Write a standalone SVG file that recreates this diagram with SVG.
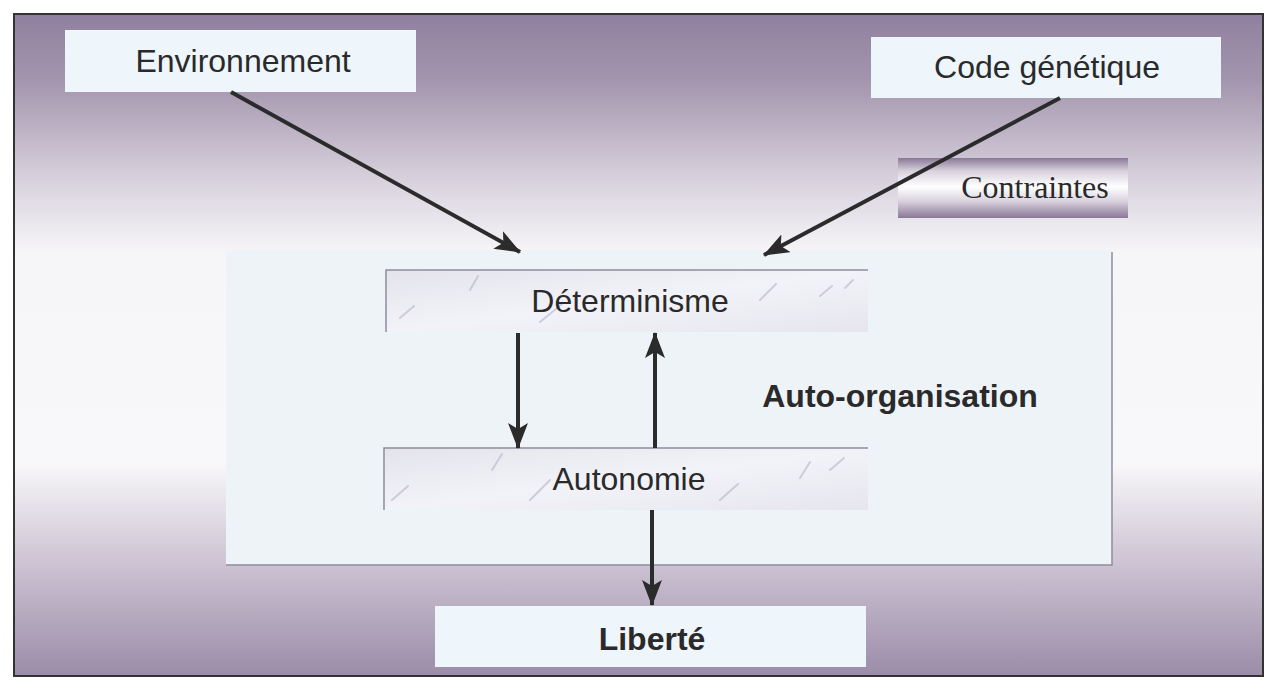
<svg xmlns="http://www.w3.org/2000/svg" width="1273" height="691" viewBox="0 0 1273 691">
  <defs>
    <linearGradient id="bg" x1="0" y1="0" x2="0" y2="1">
      <stop offset="0" stop-color="#9080a0"/>
      <stop offset="0.10" stop-color="#a395ad"/>
      <stop offset="0.25" stop-color="#d8d1dd"/>
      <stop offset="0.36" stop-color="#f6f5f8"/>
      <stop offset="0.68" stop-color="#f8f7f9"/>
      <stop offset="0.83" stop-color="#cdc3d3"/>
      <stop offset="1" stop-color="#9b8ca8"/>
    </linearGradient>
    <linearGradient id="tube" x1="0" y1="0" x2="0" y2="1">
      <stop offset="0" stop-color="#8a7896"/>
      <stop offset="0.22" stop-color="#d9d2de"/>
      <stop offset="0.48" stop-color="#ffffff"/>
      <stop offset="0.72" stop-color="#d9d2de"/>
      <stop offset="1" stop-color="#8a7896"/>
    </linearGradient>
    <linearGradient id="marble" x1="0" y1="0" x2="1" y2="1">
      <stop offset="0" stop-color="#e4e3ec"/>
      <stop offset="0.5" stop-color="#f2f3f8"/>
      <stop offset="1" stop-color="#e6e5ee"/>
    </linearGradient>
    <marker id="head" viewBox="0 0 26 20" refX="25" refY="10" markerWidth="26" markerHeight="20" markerUnits="userSpaceOnUse" orient="auto">
      <path d="M0,0 L26,10 L0,20 L6,10 Z" fill="#2b2b2b"/>
    </marker>
  </defs>
  <style>
    .lbl { font-family: "Liberation Sans", Arial, sans-serif; font-size: 32px; fill: #2a2a2a; text-anchor: middle; }
    .bold { font-weight: bold; }
    .serif { font-family: "Liberation Serif", "Times New Roman", serif; font-size: 32px; fill: #2a2a2a; text-anchor: middle; }
    .card { fill: #eef5fb; }
    .strip { fill: url(#marble); }
    .vein { stroke: #b9b3c6; stroke-width: 2; fill: none; opacity: 0.6; stroke-linecap: round; }
    .edge { stroke: #8c8f9c; stroke-width: 1.5; fill: none; }
    .link { stroke: #2b2b2b; stroke-width: 4; fill: none; marker-end: url(#head); }
  </style>

  <rect x="0" y="0" width="1273" height="691" fill="#ffffff"/>
  <!-- frame with vertical purple-white-purple gradient -->
  <rect x="14" y="14" width="1249" height="662" fill="url(#bg)" stroke="#333" stroke-width="2"/>

  <g id="auto-organisation">
    <rect x="226" y="250" width="886" height="315" fill="#eef3f8"/>
    <path class="edge" d="M1112,252 L1112,565 L226,565"/>
    <text class="lbl bold" x="900" y="407" font-size="35">Auto-organisation</text>
  </g>

  <g id="environnement">
    <rect class="card" x="65" y="30" width="351" height="62"/>
    <text class="lbl" x="243" y="72">Environnement</text>
  </g>

  <g id="code-genetique">
    <rect class="card" x="871" y="37" width="350" height="61"/>
    <text class="lbl" x="1047" y="78">Code génétique</text>
  </g>

  <g id="contraintes">
    <rect x="898" y="158" width="230" height="60" fill="url(#tube)"/>
    <text class="serif" x="1035" y="198">Contraintes</text>
  </g>

  <g id="determinisme">
    <rect class="strip" x="386" y="270" width="482" height="62"/>
    <path class="vein" d="M400,318 l14,-12 M470,290 l8,-14 M540,322 l22,-18 M760,300 l16,-16 M820,296 l12,-10 M845,288 l8,-8"/>
    <path class="edge" d="M386,332 L386,270 L868,270"/>
    <text class="lbl" x="630" y="312">Déterminisme</text>
  </g>

  <g id="autonomie">
    <rect class="strip" x="384" y="448" width="484" height="62"/>
    <path class="vein" d="M392,500 l16,-14 M492,470 l10,-16 M530,500 l20,-20 M720,500 l18,-16 M800,478 l10,-16 M830,470 l14,-12"/>
    <path class="edge" d="M384,510 L384,448 L868,448"/>
    <text class="lbl" x="629" y="490">Autonomie</text>
  </g>

  <g id="liberte">
    <rect class="card" x="435" y="606" width="431" height="61"/>
    <text class="lbl bold" x="652" y="650">Liberté</text>
  </g>

  <g id="connectors">
    <line class="link" x1="231" y1="92" x2="520" y2="252"/>
    <line class="link" x1="1060" y1="98" x2="764" y2="255"/>
    <line class="link" x1="518" y1="333" x2="518" y2="448"/>
    <line class="link" x1="655" y1="448" x2="655" y2="333"/>
    <line class="link" x1="652" y1="510" x2="652" y2="605"/>
  </g>
</svg>
